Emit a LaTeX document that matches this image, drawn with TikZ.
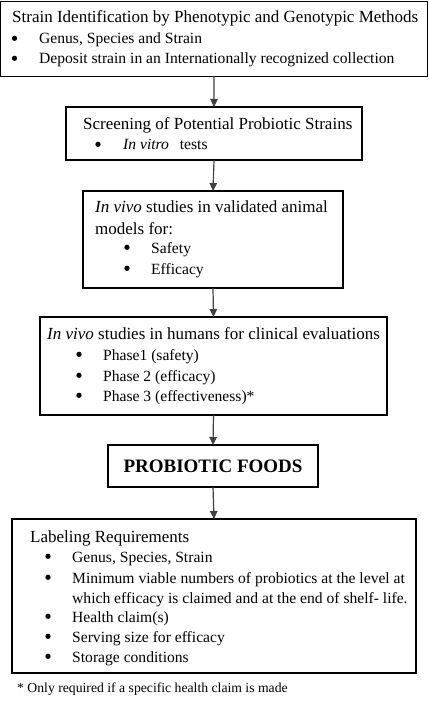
\documentclass[tikz,border=0pt]{standalone}
\usepackage{fontspec}
\setmainfont{Liberation Serif}
\usetikzlibrary{arrows.meta}
\begin{document}
\begin{tikzpicture}[x=1pt,y=-1pt,
  box/.style={draw=black,line width=1.2pt,anchor=north west,inner sep=0,outer sep=0},
  ttl/.style={anchor=base west,inner sep=0,font=\fontsize{17}{20}\selectfont},
  bul/.style={anchor=base west,inner sep=0,font=\fontsize{15.6}{19}\selectfont},
  dot/.style={circle,fill=black,inner sep=0,minimum size=5.3pt},
  arr/.style={draw=black!75,line width=1.2pt,-{Triangle[length=8pt,width=7.5pt]}}]
\useasboundingbox (0,0) rectangle (428,703);
% boxes
\node[box,minimum width=426.5pt,minimum height=75pt] (b1) at (0.8,1.2) {};
\node[box,minimum width=296pt,minimum height=53pt] (b2) at (66,107) {};
\node[box,minimum width=260pt,minimum height=97pt] (b3) at (83,191) {};
\node[box,minimum width=347pt,minimum height=98pt] (b4) at (40,317) {};
\node[box,minimum width=210pt,minimum height=42pt] (b5) at (108,445) {};
\node[box,minimum width=404pt,minimum height=154pt] (b6) at (12,519) {};
% box 1
\node[ttl] (t1) at (12,23) {Strain Identification by Phenotypic and Genotypic Methods};
\node[dot] (d1a) at (14.5,38.3) {};
\node[bul] (t1a) at (39,44) {Genus, Species and Strain};
\node[dot] (d1b) at (14.5,58.3) {};
\node[bul] (t1b) at (39,64) {Deposit strain in an Internationally recognized collection};
% box 2
\node[ttl] (t2) at (83,130) {Screening of Potential Probiotic Strains};
\node[dot] (d2a) at (98,144.3) {};
\node[bul] (t2a) at (123,150) {\textit{In vitro}\hspace{7pt} tests};
% box 3
\node[ttl] (t3) at (95,213) {\textit{In vivo} studies in validated animal};
\node[ttl] (t3b) at (95,234) {models for:};
\node[dot] (d3c) at (127,247.3) {};
\node[bul] (t3c) at (151,253) {Safety};
\node[dot] (d3d) at (127,268.3) {};
\node[bul] (t3d) at (151,274) {Efficacy};
% box 4
\node[ttl] (t4) at (47,339) {\textit{In vivo} studies in humans for clinical evaluations};
\node[dot] (d4a) at (79,354.3) {};
\node[bul] (t4a) at (103,360) {Phase1 (safety)};
\node[dot] (d4b) at (79,375.3) {};
\node[bul] (t4b) at (103,381) {Phase 2 (efficacy)};
\node[dot] (d4c) at (79,395.3) {};
\node[bul] (t4c) at (103,401) {Phase 3 (effectiveness)*};
% box 5
\node[anchor=base,inner sep=0,font=\fontsize{19}{22}\selectfont\bfseries] (t5) at (213,472) {PROBIOTIC FOODS};
% box 6
\node[ttl] (t6) at (30,542) {Labeling Requirements};
\node[dot] (d6a) at (48,556.3) {};
\node[bul] (t6a) at (72,562) {Genus, Species, Strain};
\node[dot] (d6b) at (48,577.3) {};
\node[bul] (t6b) at (72,583) {Minimum viable numbers of probiotics at the level at};
\node[bul] (t6c) at (72,603) {which efficacy is claimed and at the end of shelf- life.};
\node[dot] (d6d) at (48,616.3) {};
\node[bul] (t6d) at (72,622) {Health claim(s)};
\node[dot] (d6e) at (48,636.3) {};
\node[bul] (t6e) at (72,642) {Serving size for efficacy};
\node[dot] (d6f) at (48,656.3) {};
\node[bul] (t6f) at (72,662) {Storage conditions};
% footnote
\node[anchor=base west,inner sep=0,font=\fontsize{13.7}{16}\selectfont] (fn) at (17,692) {* Only required if a specific health claim is made};
% arrows
\draw[arr] (b1.south) -- (b2.north);
\draw[arr] (b2.south) -- (b3.north);
\draw[arr] (b3.south) -- (b4.north);
\draw[arr] (b4.south) -- (b5.north);
\draw[arr] (b5.south) -- (b6.north);
\end{tikzpicture}
\end{document}
